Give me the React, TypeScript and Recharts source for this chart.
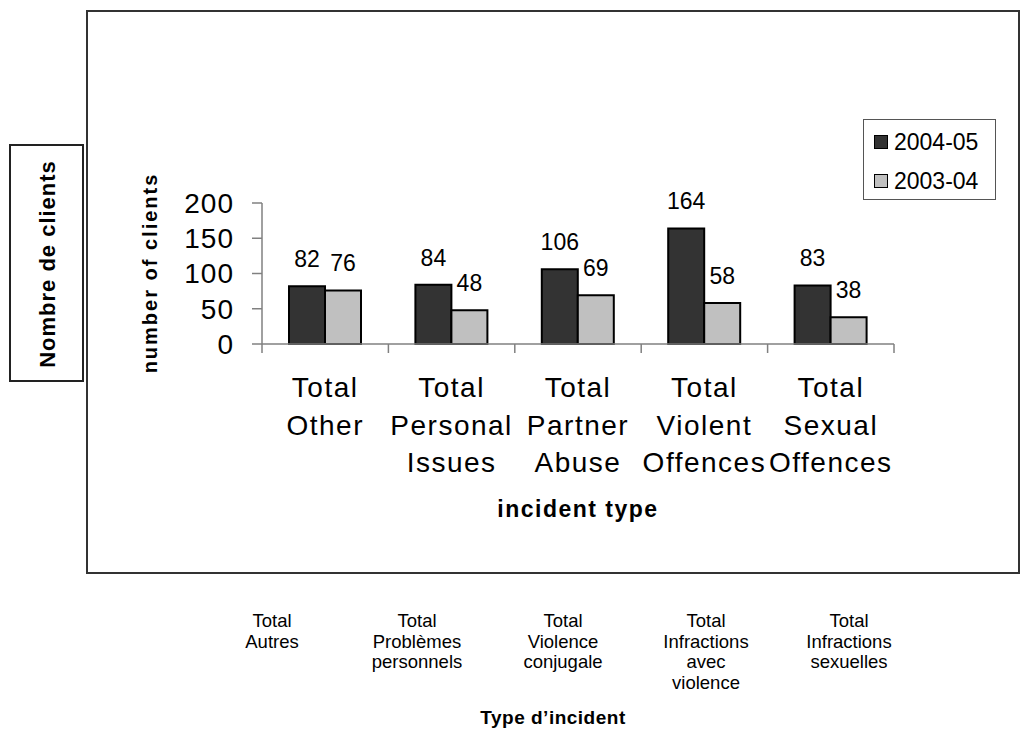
import React from 'react';
import { BarChart, Bar, XAxis, YAxis, LabelList } from 'recharts';

const categories = [
  'Total Other',
  'Total Personal Issues',
  'Total Partner Abuse',
  'Total Violent Offences',
  'Total Sexual Offences',
];
const values2004 = [82, 84, 106, 164, 83];
const values2003 = [76, 48, 69, 58, 38];
const yTicks = [0, 50, 100, 150, 200];
const seriesNames = ['2004-05', '2003-04'];
const frenchLabels = [
  'Total Autres',
  'Total Problèmes personnels',
  'Total Violence conjugale',
  'Total Infractions avec violence',
  'Total Infractions sexuelles',
];
const frenchCenters = [272, 417, 563, 706, 849];

const FONT = 'Arial, "Liberation Sans", sans-serif';
const DARK = '#333333';
const LIGHT = '#c0c0c0';
const AXIS = '#808080';

const W = 1026;
const H = 730;
const PLOT_LEFT = 262;
const PLOT_RIGHT = 894;
const PLOT_TOP = 203;
const PLOT_BOTTOM = 344;
const Y_W = 60;
const X_H = 30;
const BAND = (PLOT_RIGHT - PLOT_LEFT) / categories.length;

const data = categories.map((name, i) => ({
  name,
  a: values2004[i],
  b: values2003[i],
}));

const CategoryTick = (props: any) => {
  const { x, payload, index } = props;
  const lines = String(payload.value).split(' ');
  return (
    <g>
      <line x1={x - BAND / 2} x2={x - BAND / 2} y1={PLOT_BOTTOM} y2={PLOT_BOTTOM + 9} stroke={AXIS} strokeWidth={1.5} />
      {index === categories.length - 1 && (
        <line x1={x + BAND / 2} x2={x + BAND / 2} y1={PLOT_BOTTOM} y2={PLOT_BOTTOM + 9} stroke={AXIS} strokeWidth={1.5} />
      )}
      <text x={x} y={397} textAnchor="middle" fontSize={28} letterSpacing={1.5} fill="#000">
        {lines.map((l, i) => (
          <tspan key={i} x={x} dy={i === 0 ? 0 : 37.5}>{l}</tspan>
        ))}
      </text>
    </g>
  );
};

const LegendBox = () => (
  <div
    style={{
      position: 'absolute',
      left: 863,
      top: 119,
      width: 131,
      height: 79,
      border: '1px solid #555',
      background: '#fff',
    }}
  >
    {seriesNames.map((s, i) => (
      <div key={s} style={{ position: 'absolute', left: 10, top: 9 + i * 39, display: 'flex', alignItems: 'center' }}>
        <div
          style={{
            width: 12,
            height: 12,
            border: '1.5px solid #000',
            background: i === 0 ? DARK : LIGHT,
            marginRight: 6,
          }}
        />
        <span style={{ fontSize: 23, lineHeight: '26px', color: '#000' }}>{s}</span>
      </div>
    ))}
  </div>
);

export default function App() {
  return (
    <div style={{ position: 'relative', width: W, height: H, fontFamily: FONT, background: '#fff' }}>
      <style>{'body{margin:0}'}</style>
      {/* outer chart frame */}
      <div style={{ position: 'absolute', left: 86, top: 10, width: 930, height: 560, border: '2px solid #333' }} />
      {/* boxed french axis title */}
      <div style={{ position: 'absolute', left: 9, top: 144, width: 71, height: 234, border: '2px solid #222' }} />
      <div style={{ position: 'absolute', left: 0, top: 0 }}>
        <BarChart
          width={W}
          height={H}
          data={data}
          margin={{ top: PLOT_TOP, right: W - PLOT_RIGHT, bottom: H - PLOT_BOTTOM - X_H, left: PLOT_LEFT - Y_W }}
          barSize={36}
          barGap={0}
          style={{ fontFamily: FONT }}
        >
          <XAxis
            dataKey="name"
            height={X_H}
            interval={0}
            axisLine={{ stroke: AXIS, strokeWidth: 1.5 }}
            tickLine={false}
            tick={<CategoryTick />}
            label={{
              content: () => (
                <text x={578} y={517} textAnchor="middle" fontSize={23} fontWeight="bold" letterSpacing={1.5} fill="#000">
                  incident type
                </text>
              ),
            }}
          />
          <YAxis
            width={Y_W}
            domain={[0, 200]}
            ticks={yTicks}
            interval={0}
            axisLine={{ stroke: AXIS, strokeWidth: 1.5 }}
            tickLine={{ stroke: AXIS, strokeWidth: 1.5 }}
            tickSize={10}
            tickMargin={18}
            tick={{ fontSize: 28, fill: '#000', letterSpacing: 1 }}
            label={{
              content: () => (
                <text
                  x={150}
                  y={273}
                  transform="rotate(-90 150 273)"
                  textAnchor="middle"
                  dominantBaseline="central"
                  fontSize={20}
                  fontWeight="bold"
                  letterSpacing={2}
                  fill="#000"
                >
                  number of clients
                </text>
              ),
            }}
          />
          <Bar dataKey="a" name={seriesNames[0]} fill={DARK} stroke="#000" strokeWidth={2} isAnimationActive={false}>
            <LabelList dataKey="a" position="top" offset={19} fontSize={23} fill="#000" />
          </Bar>
          <Bar dataKey="b" name={seriesNames[1]} fill={LIGHT} stroke="#000" strokeWidth={2} isAnimationActive={false}>
            <LabelList dataKey="b" position="top" offset={19} fontSize={23} fill="#000" />
          </Bar>
        </BarChart>
      </div>
      <svg width={W} height={H} style={{ position: 'absolute', left: 0, top: 0, pointerEvents: 'none' }}>
        <text
          x={47}
          y={264}
          transform="rotate(-90 47 264)"
          textAnchor="middle"
          dominantBaseline="central"
          fontSize={22}
          fontWeight="bold"
          letterSpacing={1}
          fill="#000"
          fontFamily={FONT}
        >
          Nombre de clients
        </text>
        {frenchLabels.map((lab, i) => (
          <text key={lab} x={frenchCenters[i]} y={627} textAnchor="middle" fontSize={18.5} fill="#000" fontFamily={FONT}>
            {lab.split(' ').map((w, j) => (
              <tspan key={j} x={frenchCenters[i]} dy={j === 0 ? 0 : 20.5}>{w}</tspan>
            ))}
          </text>
        ))}
        <text x={553} y={724} textAnchor="middle" fontSize={19} fontWeight="bold" letterSpacing={0.5} fill="#000" fontFamily={FONT}>
          Type d’incident
        </text>
      </svg>
      <LegendBox />
    </div>
  );
}
